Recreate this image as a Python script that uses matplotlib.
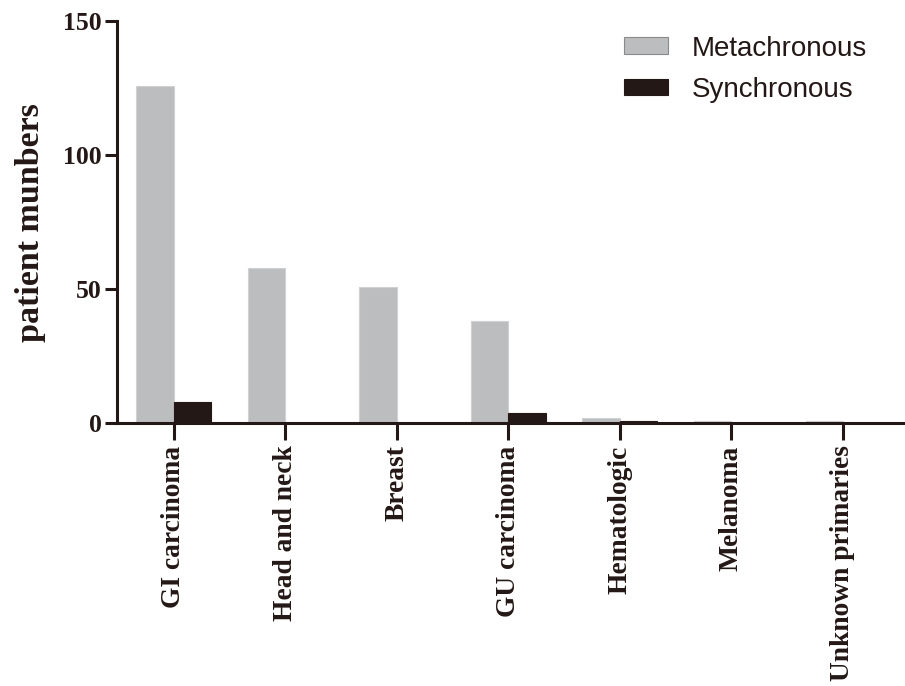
import numpy as np
import matplotlib
matplotlib.use('Agg')
import matplotlib.pyplot as plt

categories = ['GI carcinoma', 'Head and neck', 'Breast', 'GU carcinoma',
              'Hematologic', 'Melanoma', 'Unknown primaries']
metachronous = [126, 58, 51, 38, 2, 1, 1]
synchronous = [8, 0, 0, 4, 1, 0, 0]
yticks = [0, 50, 100, 150]

dark = '#231815'
grey = '#bcbdbf'

fig = plt.figure(figsize=(9.05, 6.86), dpi=100)
ax = fig.add_axes([0.129, 0.383, 0.869, 0.586])

x = np.arange(len(categories))
w = 0.335
ax.bar(x - w / 2, metachronous, w, color=grey, edgecolor='#d0d1d3', linewidth=0.8,
       label='Metachronous', zorder=2)
ax.bar(x + w / 2, synchronous, w, color=dark, edgecolor=dark, linewidth=0.8,
       label='Synchronous', zorder=2)

ax.set_xlim(-0.51, 6.54)
ax.set_ylim(0, 150)
ax.set_yticks(yticks)
ax.set_xticks(x)
ax.set_xticklabels(categories, rotation=90)

for s in ['top', 'right']:
    ax.spines[s].set_visible(False)
for s in ['left', 'bottom']:
    ax.spines[s].set_linewidth(2.2)
    ax.spines[s].set_color(dark)

ax.tick_params(axis='y', length=9, width=2.2, color=dark, pad=2)
ax.tick_params(axis='x', length=12, width=2.2, color=dark, pad=4)
for lab in ax.get_yticklabels():
    lab.set_fontfamily('Liberation Serif')
    lab.set_fontweight('bold')
    lab.set_fontsize(18.5)
    lab.set_color(dark)
for lab in ax.get_xticklabels():
    lab.set_fontfamily('Liberation Serif')
    lab.set_fontweight('bold')
    lab.set_fontsize(19.8)
    lab.set_color(dark)

ax.set_ylabel('patient munbers', fontfamily='Liberation Serif', fontweight='bold',
              fontsize=24.5, color=dark, labelpad=12)

leg = ax.legend(loc='upper left', bbox_to_anchor=(0.6895, 0.948),
                bbox_transform=fig.transFigure, frameon=False,
                prop={'family': 'Liberation Sans', 'size': 20},
                borderpad=0, borderaxespad=0,
                handlelength=1.6, handleheight=0.55, handletextpad=0.85,
                labelspacing=0.55)
leg.legend_handles[0].set_edgecolor('#8a8a8a')
for t in leg.get_texts():
    t.set_color(dark)

fig.savefig('out.png', dpi=100)
